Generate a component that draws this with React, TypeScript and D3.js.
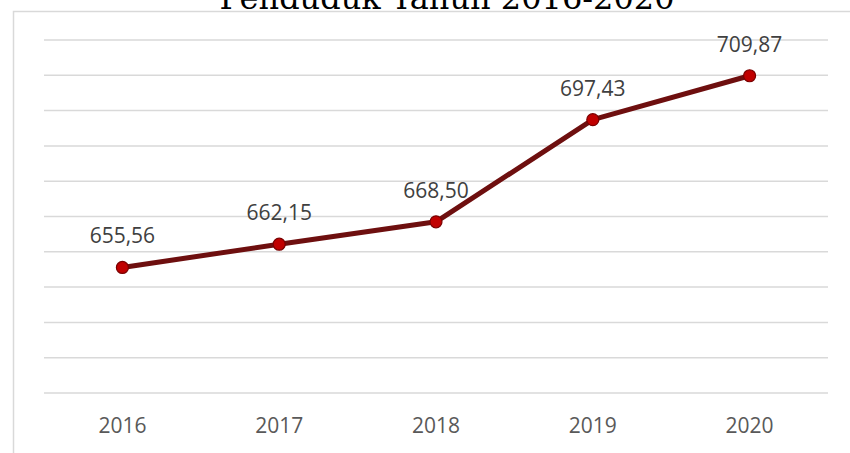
import React from "react";
import * as d3 from "d3";

const years: string[] = ["2016", "2017", "2018", "2019", "2020"];
const values: number[] = [655.56, 662.15, 668.5, 697.43, 709.87];
const valueLabels: string[] = ["655,56", "662,15", "668,50", "697,43", "709,87"];
const titleText = "Penduduk Tahun 2016-2020";

const W = 850;
const H = 453;

export default function App() {
  const left = 44;
  const right = 828;
  const top = 40;
  const bottom = 393;

  const x = d3.scaleBand<string>().domain(years).range([left, right]).padding(0);
  const y = d3.scaleLinear().domain([620, 720]).range([bottom, top]);
  const ticks = d3.range(620, 721, 10);

  const cx = (d: string) => (x(d) as number) + x.bandwidth() / 2;

  const line = d3
    .line<number>()
    .x((_, i) => cx(years[i]))
    .y((v) => y(v));

  const labelFont = "'Open Sans', 'Liberation Sans', sans-serif";

  return (
    <svg
      width={W}
      height={H}
      style={{ position: "absolute", left: 0, top: 0, background: "#ffffff" }}
    >
      <rect x={0} y={0} width={W} height={H} fill="#ffffff" />
      <rect
        x={13.5}
        y={11.5}
        width={W}
        height={H}
        fill="#ffffff"
        stroke="#d9d9d9"
        strokeWidth={1.5}
      />
      <text
        x={447}
        y={9}
        textAnchor="middle"
        fontFamily="'DejaVu Serif', serif"
        fontSize={32}
        fill="#000000"
      >
        {titleText}
      </text>
      {ticks.map((t) => (
        <line
          key={t}
          x1={left}
          x2={right}
          y1={y(t)}
          y2={y(t)}
          stroke="#d9d9d9"
          strokeWidth={1.5}
        />
      ))}
      <path
        d={line(values) || ""}
        fill="none"
        stroke="#6e0f0f"
        strokeWidth={5}
        strokeLinejoin="round"
        strokeLinecap="round"
      />
      {values.map((v, i) => (
        <circle
          key={years[i]}
          cx={cx(years[i])}
          cy={y(v)}
          r={6}
          fill="#c00000"
          stroke="#7a0000"
          strokeWidth={1.2}
        />
      ))}
      {values.map((v, i) => (
        <text
          key={"l" + years[i]}
          x={cx(years[i])}
          y={y(v) - 24}
          textAnchor="middle"
          fontFamily={labelFont}
          fontSize={21}
          fill="#404040"
        >
          {valueLabels[i]}
        </text>
      ))}
      {years.map((yr) => (
        <text
          key={"x" + yr}
          x={cx(yr)}
          y={433}
          textAnchor="middle"
          fontFamily={labelFont}
          fontSize={21}
          fill="#595959"
        >
          {yr}
        </text>
      ))}
    </svg>
  );
}
